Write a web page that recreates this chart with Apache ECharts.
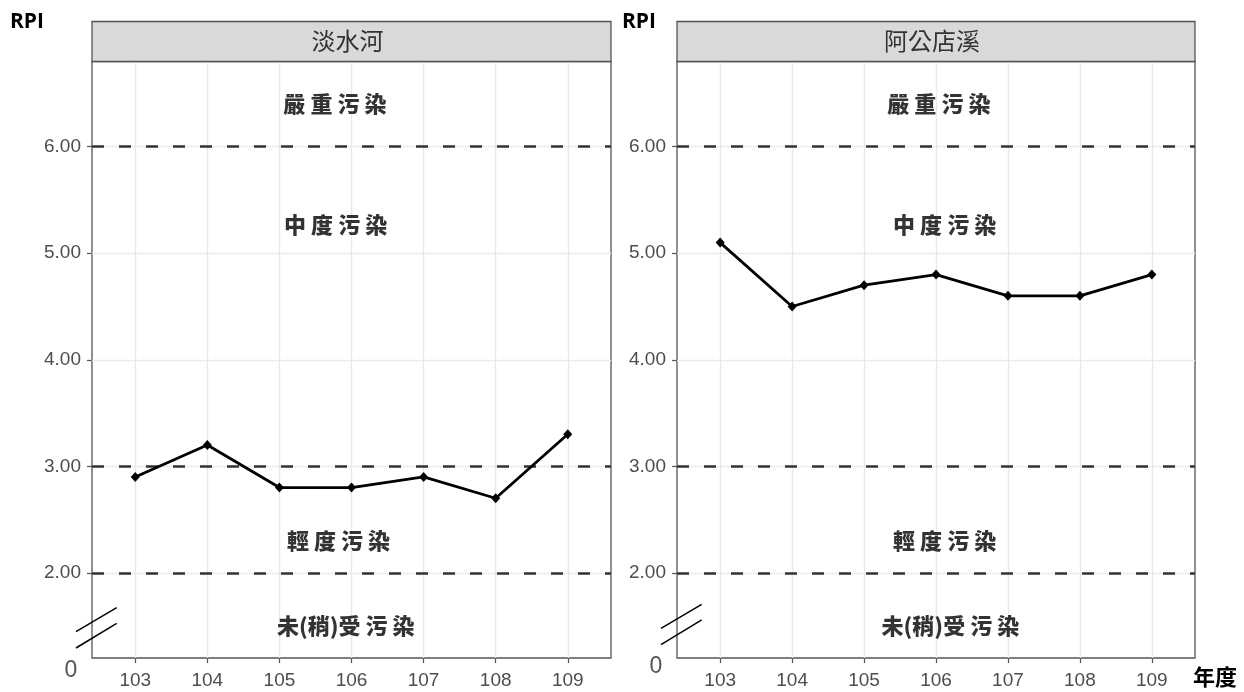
<!DOCTYPE html>
<html>
<head>
<meta charset="utf-8">
<script src="https://cdn.jsdelivr.net/npm/echarts@6/dist/echarts.min.js"></script>
<style>
  html, body { margin: 0; padding: 0; background: #fff; }
  #chart { width: 1244px; height: 692px; }
</style>
</head>
<body>
<div id="chart"></div>
<script>
// 年度 (民國)
var years = [103, 104, 105, 106, 107, 108, 109];
// RPI 各河川
var tamsuiRPI = [2.9, 3.2, 2.8, 2.8, 2.9, 2.7, 3.3];
var agongdianRPI = [5.1, 4.5, 4.7, 4.8, 4.6, 4.6, 4.8];
var panelNames = ['淡水河', '阿公店溪'];
var yTicks = [2, 3, 4, 5, 6];
var dashLevels = [2, 3, 6];
// 污染等級文字
var zoneNames = ['嚴 重 污 染', '中 度 污 染', '輕 度 污 染', '未(稍)受 污 染'];
var zoneY = [6.4, 5.27, 2.3, 1.5];
var zoneXLeft = [105.77, 105.78, 105.82, 105.92];
var zoneXRight = [106.04, 106.12, 106.12, 106.2];

var cjk = '"Noto Sans CJK TC", "Noto Sans CJK SC", sans-serif';
var latin = '"Liberation Sans", Arial, sans-serif';

var panels = [
  { left: 92, right: 611, data: tamsuiRPI, zx: zoneXLeft, rpiX: 10, zeroY: 671 },
  { left: 677, right: 1195, data: agongdianRPI, zx: zoneXRight, rpiX: 622, zeroY: 667 }
];
var plotTop = 61.5, plotBottom = 658;

var myChart = echarts.init(document.getElementById('chart'));

var grids = [], xAxes = [], yAxes = [], series = [], graphics = [];

panels.forEach(function (p, i) {
  grids.push({
    left: p.left, width: p.right - p.left, top: plotTop, height: plotBottom - plotTop,
    show: true, borderColor: '#555', borderWidth: 1.3, backgroundColor: '#fff'
  });
  xAxes.push({
    gridIndex: i, type: 'value', min: 102.4, max: 109.6, interval: 1,
    axisLine: { show: false },
    axisTick: { show: true, length: 5, customValues: years, lineStyle: { color: '#555', width: 1.2 } },
    axisLabel: {
      customValues: years, margin: 13, color: '#4d4d4d', fontSize: 19, fontFamily: latin
    },
    splitLine: { show: true, lineStyle: { color: '#e8e8e8', width: 1.4 } }
  });
  yAxes.push({
    gridIndex: i, type: 'value', min: 1.2, max: 6.8, interval: 0.5,
    axisLine: { show: false },
    axisTick: { show: true, length: 5, customValues: yTicks, lineStyle: { color: '#555', width: 1.2 } },
    axisLabel: {
      customValues: yTicks, margin: 11, color: '#4d4d4d', fontSize: 19, fontFamily: latin,
      formatter: function (v) { return v.toFixed(2); }
    },
    splitLine: { show: true, lineStyle: { color: '#ebebeb', width: 1.3 } }
  });

  series.push({
    type: 'line',
    xAxisIndex: i, yAxisIndex: i,
    data: years.map(function (y, k) { return [y, p.data[k]]; }),
    symbol: 'diamond', symbolSize: [9, 10],
    lineStyle: { color: '#000', width: 2.8 },
    itemStyle: { color: '#000' },
    z: 5,
    markLine: {
      silent: true, symbol: 'none', label: { show: false },
      lineStyle: { color: '#333', width: 2.5, type: [12, 15] },
      data: dashLevels.map(function (v) { return { yAxis: v }; })
    }
  });

  series.push({
    type: 'scatter',
    xAxisIndex: i, yAxisIndex: i,
    symbolSize: 0,
    silent: true,
    label: {
      show: true, position: 'inside', formatter: '{b}',
      color: '#000', fontSize: 22, fontWeight: 900, fontFamily: cjk
    },
    data: zoneNames.map(function (n, k) { return { name: n, value: [p.zx[k], zoneY[k]] }; }),
    z: 6
  });

  // 分面標題
  graphics.push({
    type: 'rect', z: 10,
    shape: { x: p.left, y: 21.5, width: p.right - p.left, height: 40 },
    style: { fill: '#d9d9d9', stroke: '#555', lineWidth: 1.3 }
  });
  graphics.push({
    type: 'text', z: 11,
    x: (p.left + p.right) / 2 - 4, y: 41,
    style: {
      text: panelNames[i], fill: '#333', font: '24px ' + cjk,
      textAlign: 'center', textVerticalAlign: 'middle'
    }
  });
  // RPI 標籤
  graphics.push({
    type: 'text', z: 11,
    x: p.rpiX, y: 22,
    style: {
      text: 'RPI', fill: '#000', font: 'bold 21px "Open Sans", sans-serif',
      textAlign: 'left', textVerticalAlign: 'middle'
    }
  });
  // 0 與斷軸
  graphics.push({
    type: 'text', z: 11,
    x: p.left - 21, y: p.zeroY,
    style: {
      text: '0', fill: '#555', font: '23px ' + latin,
      textAlign: 'center', textVerticalAlign: 'middle'
    }
  });
  var bx = p.left - 16, by = 631.7 - i * 3.4;
  graphics.push({
    type: 'line', z: 12,
    shape: { x1: bx, y1: by, x2: bx + 40.7, y2: by - 24 },
    style: { stroke: '#000', lineWidth: 1.5 }
  });
  graphics.push({
    type: 'line', z: 12,
    shape: { x1: bx, y1: by + 16.3, x2: bx + 40.7, y2: by - 8.4 },
    style: { stroke: '#000', lineWidth: 1.5 }
  });
});

graphics.push({
  type: 'text', z: 11,
  x: 1215, y: 677,
  style: {
    text: '年度', fill: '#000', font: 'bold 22px ' + cjk,
    textAlign: 'center', textVerticalAlign: 'middle'
  }
});

var option = {
  backgroundColor: '#fff',
  animation: false,
  grid: grids,
  xAxis: xAxes,
  yAxis: yAxes,
  series: series,
  graphic: graphics
};
myChart.setOption(option);
window.addEventListener('resize', function () { myChart.resize(); });
</script>
</body>
</html>
